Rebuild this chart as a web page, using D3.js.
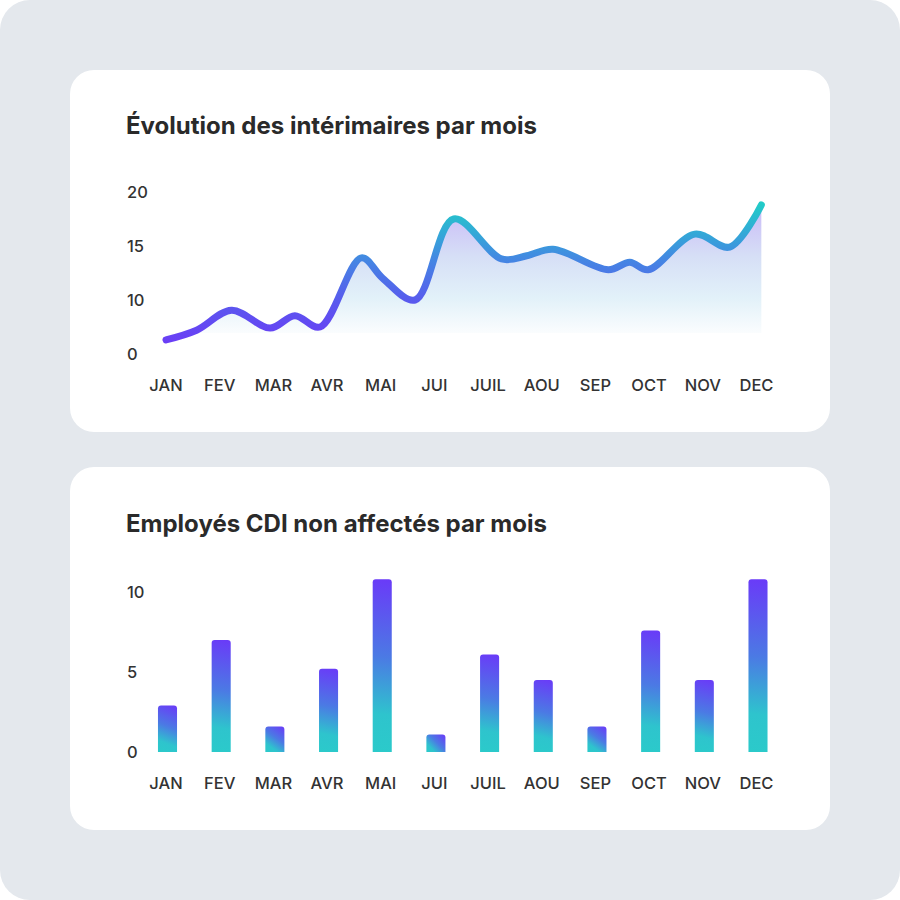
<!DOCTYPE html>
<html>
<head>
<meta charset="utf-8">
<script src="https://cdn.jsdelivr.net/npm/d3@7"></script>
<style>
  html, body { margin: 0; padding: 0; background: #ffffff; }
  svg { display: block; }
  text { font-family: Inter, "Open Sans", sans-serif; }
</style>
</head>
<body>
<svg id="chart" width="900" height="900"></svg>
<script>
// ---------- DATA ----------
const months = ["JAN", "FEV", "MAR", "AVR", "MAI", "JUI", "JUIL", "AOU", "SEP", "OCT", "NOV", "DEC"];

// Line chart: "Évolution des intérimaires par mois" (smooth curve, position in months)
const lineTitle = "Évolution des intérimaires par mois";
const linePos   = [0, 0.57, 1.22, 1.94, 2.40, 2.87, 3.64, 4.04, 4.64, 5.36, 6.25, 6.72, 7.21, 8.24, 8.64, 8.98, 9.85, 10.50, 11.09];
const lineVals  = [2.6, 4.4, 8.1, 4.8, 7.1, 5.0, 13.9, 12.0, 10.0, 17.5, 13.8, 14.1, 14.7, 12.8, 13.5, 12.8, 16.1, 14.9, 18.8];
const lineTicks = [0, 10, 15, 20];
const areaBaseValue = 3.9;

// Bar chart: "Employés CDI non affectés par mois"
const barTitle = "Employés CDI non affectés par mois";
const barVals  = [2.9, 7.0, 1.6, 5.2, 10.8, 1.1, 6.1, 4.5, 1.6, 7.6, 4.5, 10.8];
const barTicks = [0, 5, 10];

// ---------- DRAW ----------
const svg = d3.select("#chart");
const defs = svg.append("defs");

svg.append("rect").attr("x", 0).attr("y", 0).attr("width", 900).attr("height", 900)
  .attr("rx", 30).attr("fill", "#e4e8ed");

const cards = [{y: 70, h: 362}, {y: 467, h: 363}];
svg.selectAll("rect.card").data(cards).join("rect")
  .attr("class", "card")
  .attr("x", 70).attr("y", d => d.y).attr("width", 760).attr("height", d => d.h)
  .attr("rx", 24).attr("fill", "#ffffff");

svg.append("text").attr("x", 126).attr("y", 134)
  .attr("font-size", 24).attr("font-weight", 700).attr("fill", "#2a2a2a")
  .text(lineTitle);
svg.append("text").attr("x", 126).attr("y", 532)
  .attr("font-size", 24).attr("font-weight", 700).attr("fill", "#2a2a2a")
  .text(barTitle);

// ---------- LINE CHART ----------
const xL = d3.scaleLinear().domain([0, 11]).range([166, 756.5]);
const yL = d3.scaleLinear().domain([0, 10, 20]).range([354, 300, 192]);

const lg = defs.append("linearGradient").attr("id", "lineGrad")
  .attr("gradientUnits", "userSpaceOnUse")
  .attr("x1", 0).attr("y1", 345).attr("x2", 0).attr("y2", 205);
[["0", "#6b3cf6"], ["0.3", "#5a58ee"], ["0.6", "#4585e3"], ["0.82", "#31acd6"], ["1", "#22cac8"]]
  .forEach(([o, c]) => lg.append("stop").attr("offset", o).attr("stop-color", c));

const ag = defs.append("linearGradient").attr("id", "areaGrad")
  .attr("gradientUnits", "userSpaceOnUse")
  .attr("x1", 0).attr("y1", 205).attr("x2", 0).attr("y2", 334);
[["0", "#c9b9f8"], ["0.4", "#d6dff6"], ["0.72", "#e2f1f9"], ["1", "#fbfdfe"]]
  .forEach(([o, c]) => ag.append("stop").attr("offset", o).attr("stop-color", c));

const linePts = linePos.map((p, i) => ({p, v: lineVals[i]}));
const curve = d3.curveCatmullRom.alpha(0.5);

svg.append("path").datum(linePts)
  .attr("fill", "url(#areaGrad)")
  .attr("d", d3.area().x(d => xL(d.p)).y0(yL(areaBaseValue)).y1(d => yL(d.v)).curve(curve));

svg.append("path").datum(linePts)
  .attr("fill", "none")
  .attr("stroke", "url(#lineGrad)")
  .attr("stroke-width", 7)
  .attr("stroke-linecap", "round")
  .attr("stroke-linejoin", "round")
  .attr("d", d3.line().x(d => xL(d.p)).y(d => yL(d.v)).curve(curve));

svg.append("g").selectAll("text").data(lineTicks).join("text")
  .attr("x", 127).attr("y", d => yL(d)).attr("dy", "0.36em")
  .attr("font-size", 16.5).attr("font-weight", 500).attr("fill", "#333333")
  .text(d => d);

const xP = d3.scalePoint().domain(months).range([166, 756.5]);
svg.append("g").selectAll("text").data(months).join("text")
  .attr("x", d => xP(d)).attr("y", 391).attr("text-anchor", "middle")
  .attr("font-size", 16.5).attr("font-weight", 500).attr("fill", "#333333")
  .text(d => d);

// ---------- BAR CHART ----------
const yB = d3.scaleLinear().domain([0, 10]).range([752, 592]);
const bw = xP.step() * 0.355;

function barPath(x, y, w, h, r) {
  r = Math.min(r, h, w / 2);
  return `M${x},${y + h}V${y + r}Q${x},${y} ${x + r},${y}H${x + w - r}Q${x + w},${y} ${x + w},${y + r}V${y + h}Z`;
}

const bars = barVals.map((v, i) => {
  const x = xP(months[i]) + 1.5 - bw / 2;
  const y = yB(v);
  return {i, x, y, h: yB(0) - y};
});

defs.selectAll("linearGradient.bar").data(bars).join("linearGradient")
  .attr("class", "bar")
  .attr("id", d => "barGrad" + d.i)
  .attr("gradientUnits", "userSpaceOnUse")
  .attr("x1", d => d.x + bw / 2 + 9).attr("y1", d => d.y)
  .attr("x2", d => d.x + bw / 2 - 9).attr("y2", d => d.y + d.h)
  .each(function() {
    const g = d3.select(this);
    [["0", "#6a3af8"], ["0.45", "#4b7ae4"], ["0.78", "#2ec4cd"], ["1", "#2bcaca"]]
      .forEach(([o, c]) => g.append("stop").attr("offset", o).attr("stop-color", c));
  });

svg.append("g").selectAll("path").data(bars).join("path")
  .attr("fill", d => `url(#barGrad${d.i})`)
  .attr("d", d => barPath(d.x, d.y, bw, d.h, 3));

svg.append("g").selectAll("text").data(barTicks).join("text")
  .attr("x", 127).attr("y", d => yB(d)).attr("dy", "0.36em")
  .attr("font-size", 16.5).attr("font-weight", 500).attr("fill", "#333333")
  .text(d => d);

svg.append("g").selectAll("text").data(months).join("text")
  .attr("x", d => xP(d)).attr("y", 788.5).attr("text-anchor", "middle")
  .attr("font-size", 16.5).attr("font-weight", 500).attr("fill", "#333333")
  .text(d => d);
</script>
</body>
</html>
